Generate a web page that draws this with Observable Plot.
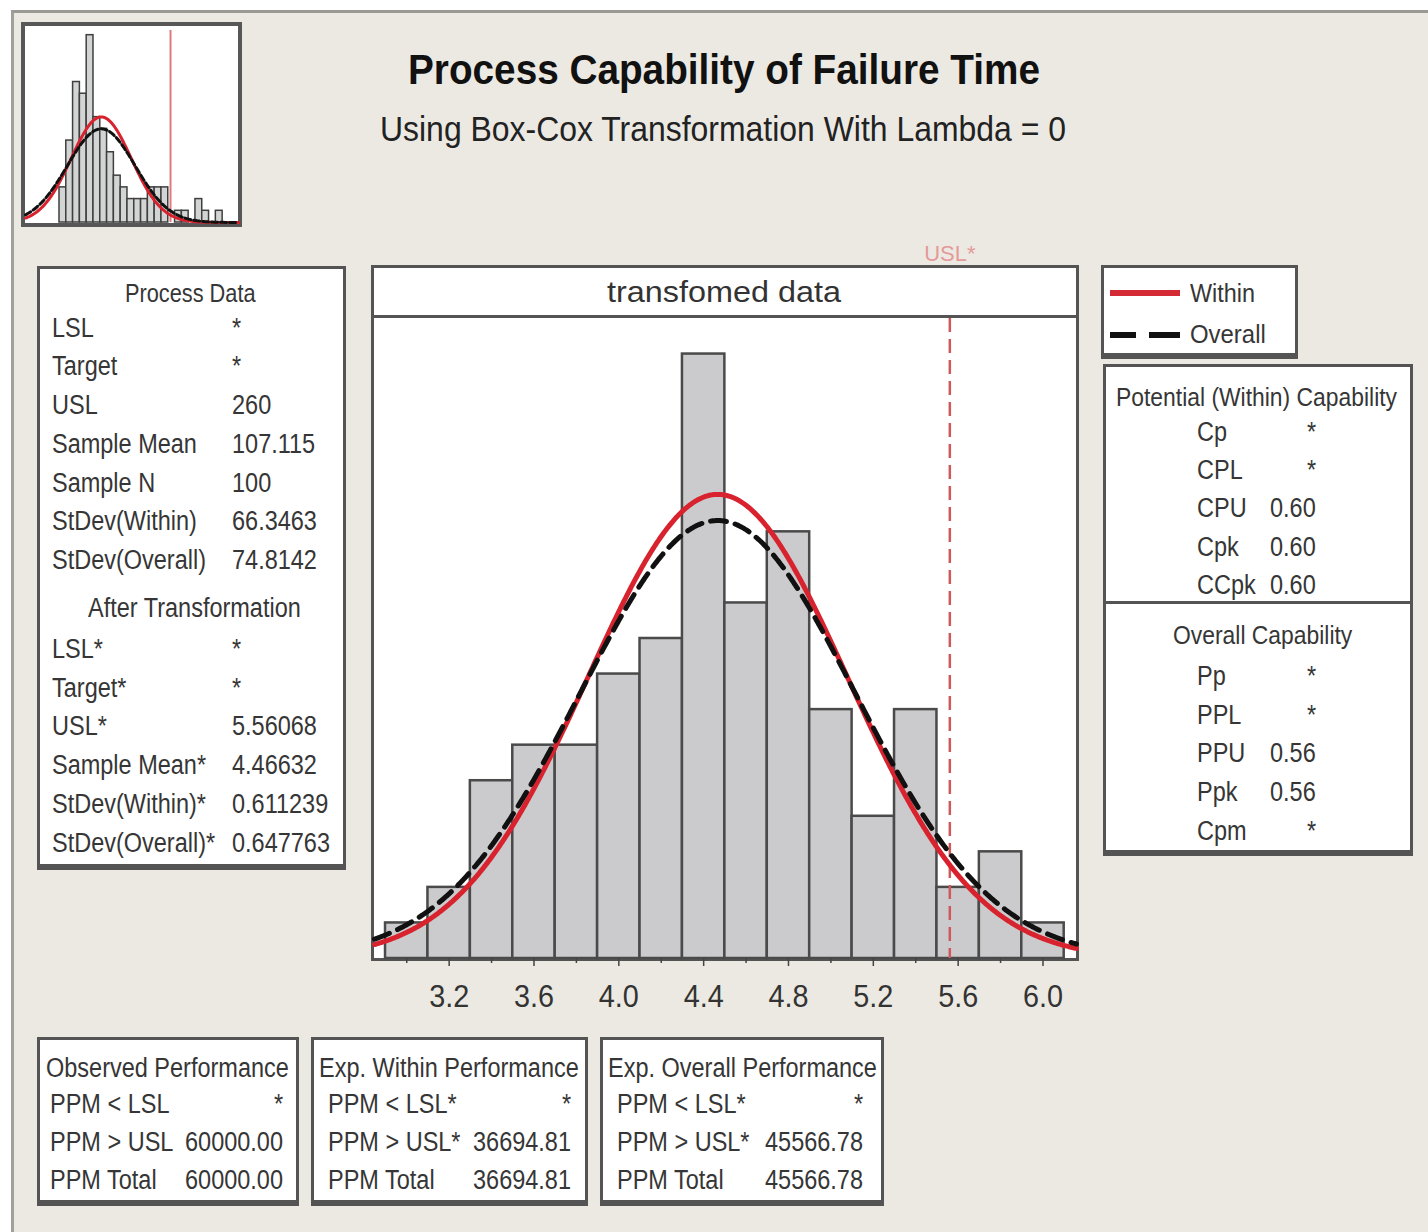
<!DOCTYPE html>
<html><head><meta charset="utf-8">
<script src="https://cdn.jsdelivr.net/npm/d3@7"></script>
<script src="https://cdn.jsdelivr.net/npm/@observablehq/plot@0.6"></script>
<style>
html,body{margin:0;padding:0;background:#fff;}
#root{position:relative;width:1428px;height:1232px;overflow:hidden;}
.box{position:absolute;box-sizing:border-box;background:#fff;border:3px solid #545454;}
</style></head><body><div id="root"></div>
<script>
// ---------------- data ----------------
const binStarts = [2.9,3.1,3.3,3.5,3.7,3.9,4.1,4.3,4.5,4.7,4.9,5.1,5.3,5.5,5.7,5.9];
const binCounts = [1,2,5,6,6,8,9,17,10,12,7,4,7,2,3,1];
const binWidth = 0.2;
const majorTicks = [3.2,3.6,4.0,4.4,4.8,5.2,5.6,6.0];
const minorTicks = [3.0,3.4,3.8,4.2,4.6,5.0,5.4,5.8];
const sampleN = 100;
const uslStar = 5.56068, meanStar = 4.46632, sdWithinStar = 0.611239, sdOverallStar = 0.647763;
const usl = 260, meanRaw = 107.115, sdWithinRaw = 66.3463, sdOverallRaw = 74.8142;
const thumbBinStarts = [15,30,45,60,75,90,105,120,135,150,165,180,195,210,225,240,255,270,285,300,315,330,345,360];
const thumbCounts   = [3,7,12,11,16,9,8,6,4,3,2,2,2,3,3,3,0,1,1,0,2,1,0,1];
const thumbBinWidth = 15;

const titleText = "Process Capability of Failure Time";
const subtitleText = "Using Box-Cox Transformation With Lambda = 0";
const panelTitle = "transfomed data";
const processLabels = ["LSL","Target","USL","Sample Mean","Sample N","StDev(Within)","StDev(Overall)"];
const processValues = ["*","*","260","107.115","100","66.3463","74.8142"];
const afterLabels = ["LSL*","Target*","USL*","Sample Mean*","StDev(Within)*","StDev(Overall)*"];
const afterValues = ["*","*","5.56068","4.46632","0.611239","0.647763"];
const withinCapLabels = ["Cp","CPL","CPU","Cpk","CCpk"];
const withinCapValues = ["*","*","0.60","0.60","0.60"];
const overallCapLabels = ["Pp","PPL","PPU","Ppk","Cpm"];
const overallCapValues = ["*","*","0.56","0.56","*"];
const observedLabels = ["PPM < LSL","PPM > USL","PPM Total"];
const observedValues = ["*","60000.00","60000.00"];
const expWithinLabels = ["PPM < LSL*","PPM > USL*","PPM Total"];
const expWithinValues = ["*","36694.81","36694.81"];
const expOverallLabels = ["PPM < LSL*","PPM > USL*","PPM Total"];
const expOverallValues = ["*","45566.78","45566.78"];
const legendLabels = ["Within","Overall"];

// ---------------- helpers ----------------
const FONT = '"Liberation Sans", Arial, Helvetica, sans-serif';
const root = document.getElementById("root");
function div(x, y, w, h, style) {
  const d = document.createElement("div");
  Object.assign(d.style, {position:"absolute", boxSizing:"border-box", left:x+"px", top:y+"px", width:w+"px", height:h+"px"}, style||{});
  root.appendChild(d); return d;
}
function box(x, y, w, h, extra) {
  const d = div(x, y, w, h, extra); d.className = "box"; return d;
}
function label(s, x, cy, o) {
  o = o || {};
  const size = o.size || 27;
  const el = document.createElement("div");
  el.textContent = s;
  Object.assign(el.style, {position:"absolute", whiteSpace:"pre", fontFamily:FONT, fontSize:size+"px",
    lineHeight:size+"px", fontWeight:o.weight||"normal", color:o.color||"#363636",
    top:(cy - 0.49*size)+"px", left:"0px", transformOrigin:"0 0"});
  root.appendChild(el);
  const w = el.getBoundingClientRect().width;
  const sx = o.w ? o.w / w : (o.sx != null ? o.sx : 0.87);
  const vw = w * sx, a = o.anchor || "start";
  el.style.left = (a === "start" ? x : a === "middle" ? x - vw/2 : x - vw) + "px";
  el.style.transform = `scaleX(${sx})`;
  return el;
}
function normalCurve(mean, sd, scale, domain, step) {
  return d3.range(domain[0], domain[1] + step/2, step).map(x => ({
    x, y: scale * Math.exp(-0.5*((x-mean)/sd)**2) / (sd*Math.sqrt(2*Math.PI))
  }));
}

// ---------------- background frame ----------------
div(11, 10, 1417, 1222, {background:"#ECE9E2", borderTop:"3px solid #9b9994", borderLeft:"3px solid #a3a09b"});

// ---------------- boxes ----------------
box(21, 22, 221, 205, {border:"4px solid #575757"});               // thumbnail
box(371, 265, 708, 696);                                           // main panel
box(371, 265, 708, 53);                                            // panel header
box(37, 266, 309, 604, {borderBottomWidth:"6px"});                 // process data
box(1101, 265, 197, 94, {borderBottomWidth:"6px"});                // legend
box(1103, 364, 310, 492, {borderBottomWidth:"6px"});               // capability
div(1103, 601, 310, 3, {background:"#545454"});
box(37, 1037, 262, 169, {borderBottomWidth:"6px"});
box(311, 1037, 277, 169, {borderBottomWidth:"6px"});
box(600, 1037, 284, 169, {borderBottomWidth:"6px"});

// ---------------- main histogram ----------------
const bins = binStarts.map((s, i) => ({x1: s, x2: s + binWidth, count: binCounts[i]}));
const xDomain = [2.848, 6.158];
const withinCurve = normalCurve(meanStar, sdWithinStar, sampleN*binWidth, xDomain, 0.005);
const overallCurve = normalCurve(meanStar, sdOverallStar, sampleN*binWidth, xDomain, 0.005);

const main = Plot.plot({
  width: 790, height: 800,
  marginLeft: 74, marginRight: 14, marginTop: 88, marginBottom: 72,
  style: {background:"transparent", fontFamily:FONT, fontSize:"32px", color:"#333", overflow:"visible"},
  x: {domain: xDomain},
  y: {domain: [0, 18.0], axis: null},
  marks: [
    Plot.rectY(bins, {x1:"x1", x2:"x2", y:"count", fill:"#cbcbcd", stroke:"#4a4a4a", strokeWidth:2.5}),
    Plot.ruleX([uslStar], {stroke:"#d0575a", strokeWidth:2.5, strokeDasharray:"14,7"}),
    Plot.line(withinCurve, {x:"x", y:"y", stroke:"#d8232f", strokeWidth:5}),
    Plot.line(overallCurve, {x:"x", y:"y", stroke:"#111", strokeWidth:5, strokeDasharray:"16,9"}),
    Plot.axisX(minorTicks, {tickSize:5, tickFormat:() => "", stroke:"#444", strokeWidth:1.5}),
    Plot.axisX(majorTicks, {tickSize:8, tickPadding:18, tickFormat:d => d.toFixed(1), stroke:"#444", strokeWidth:1.5}),
    Plot.text([uslStar], {x:d => d, frameAnchor:"top", lineAnchor:"middle", dy:-65, text:() => "USL*", fill:"#e59a9a", fontSize:22})
  ]
});
Object.assign(main.style, {position:"absolute", left:"300px", top:"230px"});
root.appendChild(main);
main.querySelectorAll('g[aria-label="x-axis tick label"] text').forEach(t => {
  const tr = t.getAttribute("transform");
  if (tr) t.setAttribute("transform", tr + " scale(0.9,1)");
});

// ---------------- thumbnail (original data) ----------------
const thumbBins = thumbBinStarts.map((s, i) => ({x1: s, x2: s + thumbBinWidth, count: thumbCounts[i]}));
const tDomain = [-60, 410];
const thumbWithin = normalCurve(meanRaw, sdWithinRaw, sampleN*thumbBinWidth, tDomain, 2);
const thumbOverall = normalCurve(meanRaw, sdOverallRaw, sampleN*thumbBinWidth, tDomain, 2);
const thumb = Plot.plot({
  width: 213, height: 192, margin: 0,
  style: {background:"transparent", overflow:"visible"},
  x: {domain: tDomain, axis: null},
  y: {domain: [0, 16.4], axis: null},
  marks: [
    Plot.rectY(thumbBins, {x1:"x1", x2:"x2", y:"count", fill:"#d3d5d5", stroke:"#3f3f3f", strokeWidth:1.5}),
    Plot.ruleX([usl], {stroke:"#e07a7a", strokeWidth:2}),
    Plot.line(thumbWithin, {x:"x", y:"y", stroke:"#d8232f", strokeWidth:3}),
    Plot.line(thumbOverall, {x:"x", y:"y", stroke:"#111", strokeWidth:3, strokeDasharray:"6,3"})
  ]
});
Object.assign(thumb.style, {position:"absolute", left:"25px", top:"30px"});
root.appendChild(thumb);

// ---------------- texts ----------------
label(titleText, 724, 70, {size:42, weight:"bold", color:"#111", anchor:"middle", w:632});
label(subtitleText, 723, 128, {size:35, color:"#222", anchor:"middle", w:686});
label(panelTitle, 724, 292, {size:30, color:"#333", anchor:"middle", w:234});

// process data
label("Process Data", 190, 293, {size:25, anchor:"middle"});
processLabels.forEach((s, i) => label(s, 52, 328 + i*38.7));
processValues.forEach((s, i) => label(s, 232, 328 + i*38.7));
label("After Transformation", 194, 608, {size:27, anchor:"middle"});
afterLabels.forEach((s, i) => label(s, 52, 649 + i*38.8));
afterValues.forEach((s, i) => label(s, 232, 649 + i*38.8));

// legend
div(1110, 290, 70, 6, {background:"#d42a36"});
div(1110, 332, 26, 6, {background:"#111"});
div(1149, 332, 31, 6, {background:"#111"});
label(legendLabels[0], 1190, 293, {size:26, sx:0.9});
label(legendLabels[1], 1190, 334, {size:26, sx:0.92});

// capability
label("Potential (Within) Capability", 1257, 397, {size:26, anchor:"middle", sx:0.88});
withinCapLabels.forEach((s, i) => label(s, 1197, 432 + i*38.25));
withinCapValues.forEach((s, i) => label(s, 1316, 432 + i*38.25, {anchor:"end"}));
label("Overall Capability", 1263, 635, {size:26, anchor:"middle", sx:0.88});
overallCapLabels.forEach((s, i) => label(s, 1197, 676 + i*38.75));
overallCapValues.forEach((s, i) => label(s, 1316, 676 + i*38.75, {anchor:"end"}));

// performance boxes
const perf = [
  {title:"Observed Performance", labels:observedLabels, values:observedValues, x0:50, x1:283, cx:167},
  {title:"Exp. Within Performance", labels:expWithinLabels, values:expWithinValues, x0:328, x1:571, cx:449},
  {title:"Exp. Overall Performance", labels:expOverallLabels, values:expOverallValues, x0:617, x1:863, cx:742}
];
perf.forEach(p => {
  label(p.title, p.cx, 1068, {anchor:"middle"});
  p.labels.forEach((s, i) => label(s, p.x0, 1104 + i*38));
  p.values.forEach((s, i) => label(s, p.x1, 1104 + i*38, {anchor:"end"}));
});
</script></body></html>
